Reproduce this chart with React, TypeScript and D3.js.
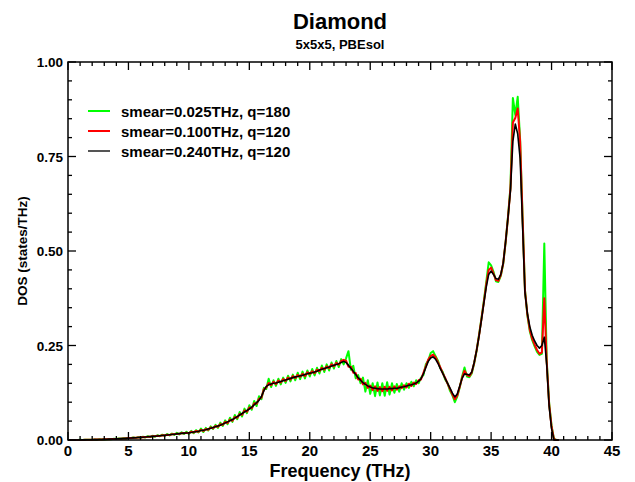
import React from 'react';
import * as d3 from 'd3';

// frequency grid: 0.0, 0.2, 0.4 ... 40.6 THz
const FREQ_STEP = 0.2;

const DOS_Q180_S025 = [
  0, 0.0002, 0, 0.0003, 0.0001, 0.0004, 0.0002, 0.0006, 0.0004, 0.0009,
  0.0006, 0.0012, 0.0009, 0.0017, 0.0012, 0.0021, 0.0016, 0.0027, 0.0021, 0.0033,
  0.0026, 0.0041, 0.0032, 0.0048, 0.0038, 0.0056, 0.0045, 0.0066, 0.0051, 0.0076,
  0.0058, 0.0088, 0.0068, 0.0099, 0.0077, 0.0112, 0.0087, 0.0125, 0.0099, 0.014,
  0.011, 0.0156, 0.0122, 0.0172, 0.0135, 0.019, 0.0148, 0.0203, 0.016, 0.0215,
  0.016, 0.024, 0.018, 0.026, 0.02, 0.03, 0.021, 0.032, 0.025, 0.036,
  0.029, 0.04, 0.032, 0.046, 0.037, 0.052, 0.042, 0.059, 0.048, 0.066,
  0.055, 0.074, 0.062, 0.083, 0.071, 0.092, 0.08, 0.103, 0.09, 0.116,
  0.108, 0.138, 0.135, 0.162, 0.14, 0.158, 0.143, 0.162, 0.147, 0.165,
  0.151, 0.17, 0.155, 0.173, 0.158, 0.178, 0.161, 0.181, 0.163, 0.184,
  0.168, 0.188, 0.171, 0.191, 0.176, 0.197, 0.18, 0.2, 0.184, 0.205,
  0.189, 0.209, 0.193, 0.214, 0.2, 0.216, 0.235, 0.186, 0.196, 0.163,
  0.172, 0.15, 0.165, 0.128, 0.158, 0.122, 0.15, 0.116, 0.152, 0.118,
  0.15, 0.117, 0.153, 0.12, 0.15, 0.125, 0.148, 0.128, 0.15, 0.133,
  0.15, 0.138, 0.154, 0.142, 0.158, 0.15, 0.165, 0.172, 0.2, 0.21,
  0.23, 0.235, 0.222, 0.21, 0.19, 0.18, 0.16, 0.15, 0.13, 0.118,
  0.1, 0.115, 0.138, 0.168, 0.192, 0.168, 0.166, 0.176, 0.203, 0.236,
  0.278, 0.322, 0.368, 0.418, 0.47, 0.462, 0.445, 0.42, 0.418, 0.434,
  0.466, 0.523, 0.592, 0.67, 0.905, 0.86, 0.908, 0.795, 0.595, 0.398,
  0.33, 0.288, 0.264, 0.248, 0.233, 0.225, 0.228, 0.52, 0.21, 0.098,
  0.038, 0.003, 0, 0,
];

const DOS_Q120_S100 = [
  0, 0, 0.0001, 0.0001, 0.0002, 0.0002, 0.0003, 0.0005, 0.0005, 0.0007,
  0.0008, 0.001, 0.0011, 0.0014, 0.0015, 0.0018, 0.0019, 0.0023, 0.0024, 0.0029,
  0.0029, 0.0035, 0.0036, 0.0043, 0.0042, 0.005, 0.0051, 0.0059, 0.0058, 0.0068,
  0.0067, 0.0078, 0.0076, 0.0088, 0.0087, 0.0099, 0.0097, 0.0112, 0.0109, 0.0124,
  0.0121, 0.0139, 0.0135, 0.0153, 0.0149, 0.0168, 0.0162, 0.0182, 0.0176, 0.0194,
  0.018, 0.022, 0.02, 0.024, 0.022, 0.027, 0.024, 0.029, 0.027, 0.033,
  0.031, 0.037, 0.035, 0.042, 0.04, 0.048, 0.045, 0.054, 0.051, 0.061,
  0.059, 0.069, 0.067, 0.078, 0.075, 0.086, 0.084, 0.097, 0.096, 0.109,
  0.112, 0.134, 0.139, 0.151, 0.145, 0.154, 0.148, 0.157, 0.152, 0.161,
  0.156, 0.165, 0.16, 0.169, 0.164, 0.172, 0.167, 0.175, 0.169, 0.179,
  0.174, 0.182, 0.177, 0.186, 0.182, 0.191, 0.186, 0.195, 0.19, 0.2,
  0.195, 0.204, 0.199, 0.209, 0.212, 0.21, 0.194, 0.194, 0.178, 0.177,
  0.16, 0.162, 0.147, 0.151, 0.138, 0.144, 0.132, 0.142, 0.13, 0.14,
  0.129, 0.141, 0.13, 0.141, 0.131, 0.142, 0.133, 0.142, 0.137, 0.145,
  0.139, 0.149, 0.143, 0.152, 0.148, 0.158, 0.16, 0.178, 0.195, 0.213,
  0.222, 0.226, 0.219, 0.206, 0.192, 0.177, 0.164, 0.149, 0.135, 0.12,
  0.108, 0.118, 0.14, 0.165, 0.183, 0.172, 0.169, 0.179, 0.204, 0.237,
  0.276, 0.32, 0.365, 0.412, 0.45, 0.456, 0.44, 0.423, 0.421, 0.436,
  0.467, 0.524, 0.59, 0.665, 0.84, 0.852, 0.877, 0.79, 0.59, 0.395,
  0.332, 0.292, 0.268, 0.252, 0.238, 0.228, 0.232, 0.375, 0.205, 0.095,
  0.035, 0.002, 0, 0,
];

const DOS_Q120_S240 = [
  0, 0, 0, 0.0001, 0.0001, 0.0002, 0.0003, 0.0004, 0.0005, 0.0006,
  0.0008, 0.0009, 0.0011, 0.0013, 0.0015, 0.0017, 0.0019, 0.0022, 0.0025, 0.0027,
  0.003, 0.0033, 0.0037, 0.004, 0.0044, 0.0048, 0.0052, 0.0056, 0.006, 0.0065,
  0.0069, 0.0074, 0.0079, 0.0084, 0.009, 0.0095, 0.0101, 0.0107, 0.0113, 0.0119,
  0.0126, 0.0133, 0.014, 0.0147, 0.0154, 0.0161, 0.0168, 0.0175, 0.0182, 0.0186,
  0.019, 0.02, 0.021, 0.022, 0.023, 0.025, 0.026, 0.027, 0.029, 0.031,
  0.033, 0.035, 0.037, 0.039, 0.042, 0.045, 0.048, 0.051, 0.054, 0.058,
  0.062, 0.066, 0.07, 0.074, 0.078, 0.082, 0.087, 0.093, 0.099, 0.105,
  0.115, 0.13, 0.142, 0.146, 0.148, 0.15, 0.151, 0.153, 0.155, 0.157,
  0.159, 0.161, 0.163, 0.165, 0.167, 0.168, 0.17, 0.171, 0.173, 0.175,
  0.177, 0.178, 0.18, 0.182, 0.185, 0.187, 0.189, 0.191, 0.193, 0.196,
  0.198, 0.2, 0.202, 0.205, 0.208, 0.205, 0.198, 0.19, 0.182, 0.173,
  0.165, 0.158, 0.152, 0.147, 0.143, 0.14, 0.138, 0.137, 0.136, 0.135,
  0.135, 0.135, 0.135, 0.136, 0.136, 0.137, 0.137, 0.138, 0.14, 0.141,
  0.143, 0.145, 0.146, 0.148, 0.151, 0.155, 0.162, 0.175, 0.192, 0.208,
  0.217, 0.22, 0.214, 0.203, 0.189, 0.176, 0.163, 0.15, 0.137, 0.124,
  0.114, 0.122, 0.142, 0.163, 0.175, 0.174, 0.172, 0.18, 0.205, 0.237,
  0.275, 0.318, 0.362, 0.405, 0.438, 0.447, 0.438, 0.427, 0.425, 0.438,
  0.468, 0.525, 0.59, 0.66, 0.79, 0.836, 0.81, 0.745, 0.57, 0.39,
  0.335, 0.3, 0.277, 0.262, 0.25, 0.243, 0.25, 0.272, 0.2, 0.09,
  0.03, 0, 0, 0,
];

const SERIES = [
  { label: 'smear=0.025THz, q=180', values: DOS_Q180_S025, color: '#00ff00', width: 2 },
  { label: 'smear=0.100THz, q=120', values: DOS_Q120_S100, color: '#ff0000', width: 2 },
  { label: 'smear=0.240THz, q=120', values: DOS_Q120_S240, color: '#000000', width: 1.6 },
];

const X_MAJOR = [0, 5, 10, 15, 20, 25, 30, 35, 40, 45];
const Y_MAJOR = [0, 0.25, 0.5, 0.75, 1];

const W = 635;
const H = 482;
const margin = { left: 68, right: 23, top: 62, bottom: 42 };
const FONT = '"Liberation Sans", Arial, Helvetica, sans-serif';

export default function App() {
  const x = d3.scaleLinear().domain([0, 45]).range([margin.left, W - margin.right]);
  const y = d3.scaleLinear().domain([0, 1]).range([H - margin.bottom, margin.top]);
  const [x0, x1] = x.range();
  const [y0, y1] = y.range();

  const xMinor = d3.range(0, 46, 1);
  const yMinor = d3.range(0, 21).map(i => i * 0.05);

  const line = d3.line<number>()
    .x((_, i) => x(i * FREQ_STEP))
    .y(d => y(d));

  return (
    <svg width={W} height={H} style={{ position: 'absolute', left: 0, top: 0, background: '#fff' }}
      fontFamily={FONT} fontWeight="bold">
      <text x={(x0 + x1) / 2} y={29} textAnchor="middle" fontSize={22}>Diamond</text>
      <text x={(x0 + x1) / 2} y={49} textAnchor="middle" fontSize={13}>5x5x5, PBEsol</text>

      {/* curves */}
      <g fill="none" strokeLinejoin="round">
        {SERIES.map(s => (
          <path key={s.label} d={line(s.values) || ''} stroke={s.color} strokeWidth={s.width} />
        ))}
      </g>

      {/* ticks, inward on all four sides */}
      <g stroke="#000" strokeWidth={1.3}>
        {xMinor.map(v => {
          const len = v % 5 === 0 ? 8 : 4;
          return (
            <g key={'x' + v}>
              <line x1={x(v)} x2={x(v)} y1={y0} y2={y0 - len} />
              <line x1={x(v)} x2={x(v)} y1={y1} y2={y1 + len} />
            </g>
          );
        })}
        {yMinor.map((v, i) => {
          const len = i % 5 === 0 ? 8 : 4;
          return (
            <g key={'y' + i}>
              <line x1={x0} x2={x0 + len} y1={y(v)} y2={y(v)} />
              <line x1={x1} x2={x1 - len} y1={y(v)} y2={y(v)} />
            </g>
          );
        })}
      </g>
      <rect x={x0} y={y1} width={x1 - x0} height={y0 - y1} fill="none" stroke="#000" strokeWidth={1.5} />

      {/* tick labels */}
      {X_MAJOR.map(v => (
        <text key={'xl' + v} x={x(v)} y={y0 + 16} textAnchor="middle" fontSize={15}>{v}</text>
      ))}
      {Y_MAJOR.map(v => (
        <text key={'yl' + v} x={x0 - 5} y={y(v) + 5} textAnchor="end" fontSize={13.5}>{d3.format('.2f')(v)}</text>
      ))}

      <text x={(x0 + x1) / 2} y={477} textAnchor="middle" fontSize={18}>Frequency (THz)</text>
      <text transform={`translate(27,${(y0 + y1) / 2}) rotate(-90)`} textAnchor="middle" fontSize={13.5}>DOS (states/THz)</text>

      {/* legend */}
      {SERIES.map((s, i) => (
        <g key={'lg' + i} transform={`translate(88,${111 + i * 20})`}>
          <line x1={0} x2={22} y1={0} y2={0} stroke={s.color === '#000000' ? '#555' : s.color} strokeWidth={2} />
          <text x={33} y={5.5} fontSize={15}>{s.label}</text>
        </g>
      ))}
    </svg>
  );
}
